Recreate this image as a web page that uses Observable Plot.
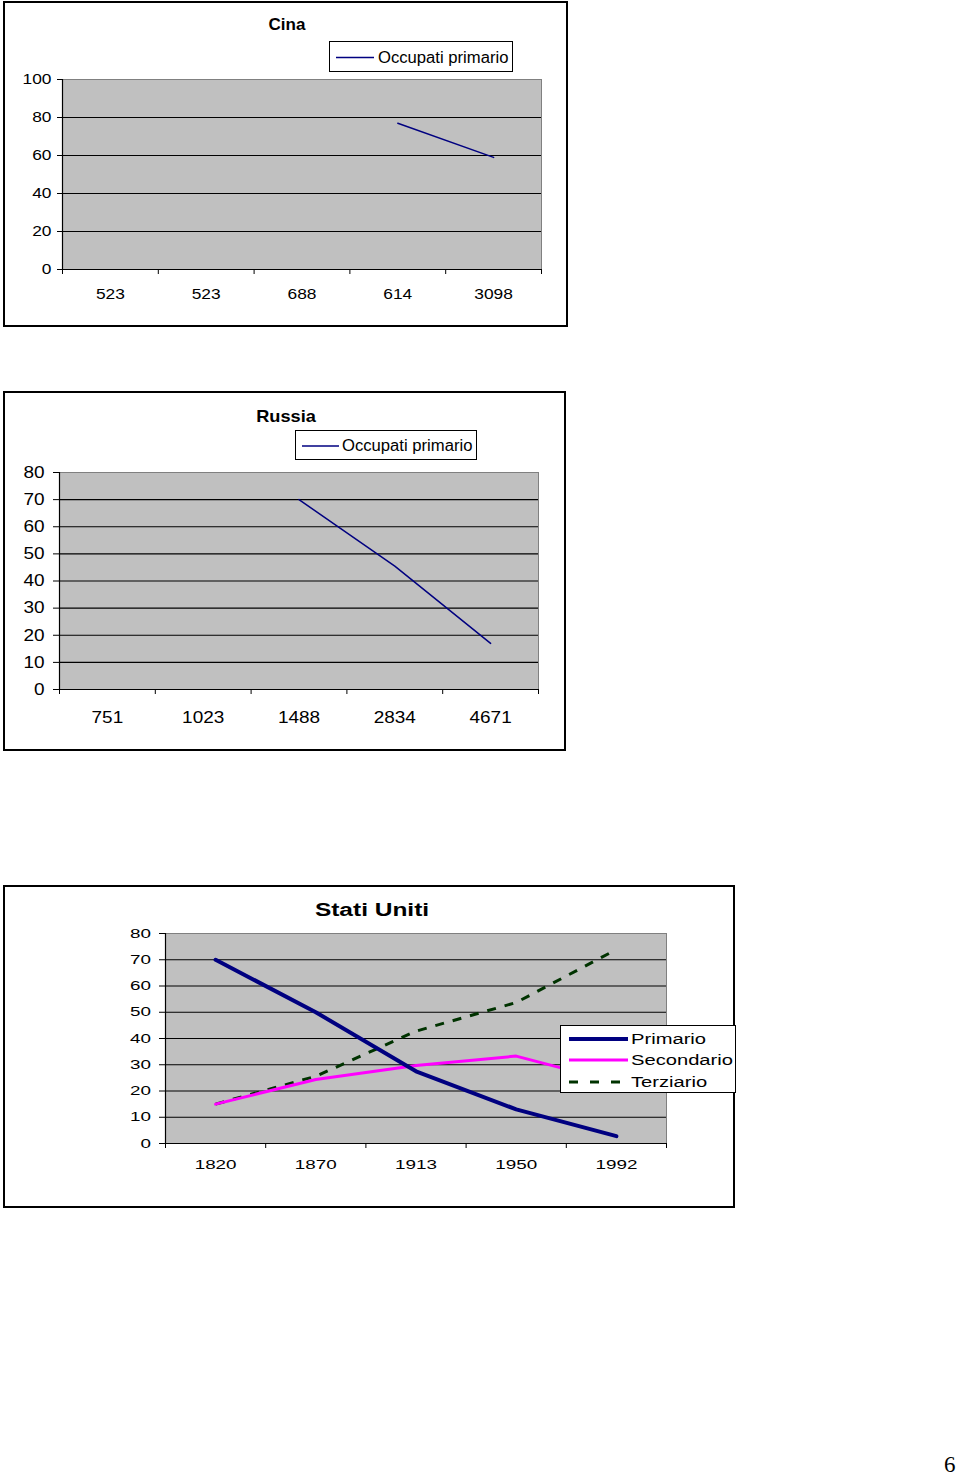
<!DOCTYPE html>
<html>
<head>
<meta charset="utf-8">
<script src="https://cdn.jsdelivr.net/npm/d3@7"></script>
<script src="https://cdn.jsdelivr.net/npm/@observablehq/plot@0.6"></script>
<style>
  html, body { margin: 0; padding: 0; background: #fff; }
  body { position: relative; width: 960px; height: 1478px; overflow: hidden; }
  .frame { position: absolute; border: 2px solid #000; box-sizing: border-box; }
  .chart { position: absolute; left: 0; }
  .title { position: absolute; font-weight: bold; white-space: nowrap; transform-origin: center center; }
  .legend { position: absolute; background: #fff; border: 1.5px solid #000; box-sizing: border-box; z-index: 5; }
  .legend svg { position: absolute; left: 0; top: 0; }
  .lab { position: absolute; white-space: nowrap; transform-origin: left center; }
  .page { position: absolute; left: 944px; top: 1452px; font-family: "Liberation Serif", serif; font-size: 23px; }
</style>
</head>
<body>
<script>
// ---------- data ----------
const cinaLabels = ["523", "523", "688", "614", "3098"];
const cinaPrimario = [null, null, null, 77, 59];
const cinaTicks = [0, 20, 40, 60, 80, 100];

const russiaLabels = ["751", "1023", "1488", "2834", "4671"];
const russiaPrimario = [null, null, 70, 45.5, 17];
const russiaTicks = [0, 10, 20, 30, 40, 50, 60, 70, 80];

const usaLabels = ["1820", "1870", "1913", "1950", "1992"];
const usaPrimario = [70, 50, 27.5, 13, 2.8];
const usaSecondario = [15, 24.4, 29.7, 33.3, 23.3];
const usaTerziario = [15, 25.6, 42.8, 53.7, 73.9];
const usaTicks = [0, 10, 20, 30, 40, 50, 60, 70, 80];

// ---------- helpers ----------
const ARIAL = "Liberation Sans, Arial, sans-serif";
const NS = "http://www.w3.org/2000/svg";

function el(tag, cls, css, text) {
  const e = document.createElement(tag);
  if (cls) e.className = cls;
  Object.assign(e.style, css || {});
  if (text != null) e.textContent = text;
  document.body.appendChild(e);
  return e;
}

// widen the axis labels horizontally around their anchor point
function stretchText(svg, s) {
  if (s === 1) return;
  Array.from(svg.querySelectorAll("text")).forEach(t => {
    if (!t.textContent) return;
    const anchor = getComputedStyle(t).textAnchor || "start";
    const g = document.createElementNS(NS, "g");
    t.parentNode.insertBefore(g, t);
    g.appendChild(t);
    const b = g.getBBox();
    if (!isFinite(b.x) || b.width === 0) return;
    const ax = anchor === "end" ? b.x + b.width : anchor === "middle" ? b.x + b.width / 2 : b.x;
    g.setAttribute("transform", `translate(${ax},0) scale(${s},1) translate(${-ax},0)`);
  });
}

function makeChart(cfg) {
  const idx = cfg.labels.map((_, i) => i);
  const bounds = d3.range(-0.5, cfg.labels.length, 1);
  const ymax = cfg.yTicks[cfg.yTicks.length - 1];
  const marks = [
    Plot.frame({fill: "#c0c0c0", stroke: "#808080"}),
    Plot.ruleY(cfg.yTicks.filter(t => t > 0 && t < ymax), {stroke: "#000", strokeWidth: 1.2}),
    Plot.ruleX([-0.5], {stroke: "#000", strokeWidth: 1.2}),
    Plot.ruleY([0], {stroke: "#000", strokeWidth: 1.2}),
    Plot.axisY({ticks: cfg.yTicks, tickSize: cfg.yTickSize, tickPadding: cfg.yPad, fontSize: cfg.fontSize, tickFormat: d => String(d)}),
    Plot.axisX({ticks: bounds, tickSize: 5, tickFormat: () => ""}),
    Plot.axisX({ticks: idx, tickSize: 0, tickPadding: cfg.xPad, fontSize: cfg.fontSize, tickFormat: i => cfg.labels[i]})
  ];
  for (const s of cfg.series) {
    const data = s.values.map((v, i) => ({i, v}));
    marks.push(Plot.line(data, {x: "i", y: "v", stroke: s.color, strokeWidth: s.width,
      strokeDasharray: s.dash, strokeLinecap: s.dash ? "butt" : "round"}));
  }
  const svg = Plot.plot({
    width: cfg.width, height: cfg.height,
    marginLeft: cfg.ml, marginRight: cfg.mr, marginTop: cfg.mt, marginBottom: cfg.mb,
    x: {type: "linear", domain: [-0.5, cfg.labels.length - 0.5], label: null},
    y: {domain: [0, ymax], label: null},
    style: {fontFamily: cfg.font, fontSize: cfg.fontSize + "px", color: "#000", background: "transparent", overflow: "visible"},
    marks
  });
  svg.classList.add("chart");
  svg.style.top = cfg.top + "px";
  document.body.appendChild(svg);
  stretchText(svg, cfg.stretch);
}

function makeTitle(text, cx, cy, size, stretch) {
  el("div", "title", {left: cx + "px", top: cy + "px", fontFamily: ARIAL, fontSize: size + "px",
    transform: `translate(-50%, -50%) scaleX(${stretch})`}, text);
}

function makeLegend(box, rows, fontSize, stretch) {
  const d = el("div", "legend", {left: box.x + "px", top: box.y + "px", width: box.w + "px", height: box.h + "px"});
  const s = document.createElementNS(NS, "svg");
  s.setAttribute("width", box.w); s.setAttribute("height", box.h);
  d.appendChild(s);
  rows.forEach(r => {
    const l = document.createElementNS(NS, "line");
    l.setAttribute("x1", r.x1); l.setAttribute("x2", r.x2);
    l.setAttribute("y1", r.y); l.setAttribute("y2", r.y);
    l.setAttribute("stroke", r.color); l.setAttribute("stroke-width", r.width);
    if (r.dash) l.setAttribute("stroke-dasharray", r.dash);
    s.appendChild(l);
    const t = document.createElement("div");
    t.className = "lab";
    Object.assign(t.style, {left: r.tx + "px", top: r.y + "px", fontFamily: ARIAL, fontSize: fontSize + "px",
      transform: `translateY(-50%) scaleX(${stretch})`});
    t.textContent = r.text;
    d.appendChild(t);
  });
}

// ---------- Cina ----------
el("div", "frame", {left: "3px", top: "1px", width: "565px", height: "326px"});
makeChart({
  top: 0, width: 570, height: 330, ml: 62, mr: 29, mt: 79, mb: 61,
  labels: cinaLabels, yTicks: cinaTicks, font: ARIAL, fontSize: 15.5, stretch: 1.12,
  yTickSize: 5, yPad: 6, xPad: 18,
  series: [{values: cinaPrimario, color: "#000080", width: 1.5}]
});
makeTitle("Cina", 287, 25, 17, 1.0);
makeLegend({x: 329, y: 41, w: 184, h: 31},
  [{x1: 6, x2: 44, y: 15.5, color: "#000080", width: 1.5, tx: 48, text: "Occupati primario"}],
  16, 1.04);

// ---------- Russia ----------
el("div", "frame", {left: "3px", top: "391px", width: "563px", height: "360px"});
makeChart({
  top: 390, width: 570, height: 365, ml: 59, mr: 32, mt: 82, mb: 66,
  labels: russiaLabels, yTicks: russiaTicks, font: ARIAL, fontSize: 16.5, stretch: 1.15,
  yTickSize: 6, yPad: 9, xPad: 22,
  series: [{values: russiaPrimario, color: "#000080", width: 1.5}]
});
makeTitle("Russia", 286, 417, 17, 1.07);
makeLegend({x: 295, y: 430, w: 182, h: 30},
  [{x1: 6, x2: 43, y: 15, color: "#000080", width: 1.5, tx: 46, text: "Occupati primario"}],
  16, 1.04);

// ---------- Stati Uniti ----------
el("div", "frame", {left: "3px", top: "885px", width: "732px", height: "323px"});
makeChart({
  top: 880, width: 740, height: 330, ml: 165, mr: 74, mt: 53, mb: 67,
  labels: usaLabels, yTicks: usaTicks, font: ARIAL, fontSize: 13, stretch: 1.45,
  yTickSize: 6, yPad: 8.5, xPad: 16,
  series: [
    {values: usaTerziario, color: "#003300", width: 3, dash: "9,9"},
    {values: usaSecondario, color: "#ff00ff", width: 3},
    {values: usaPrimario, color: "#000080", width: 4}
  ]
});
makeTitle("Stati Uniti", 372, 910, 18, 1.36);
makeLegend({x: 560, y: 1025, w: 176, h: 68},
  [
    {x1: 8, x2: 67, y: 13, color: "#000080", width: 4, tx: 70, text: "Primario"},
    {x1: 8, x2: 67, y: 34, color: "#ff00ff", width: 3, tx: 70, text: "Secondario"},
    {x1: 8, x2: 67, y: 56, color: "#003300", width: 3, dash: "9,12", tx: 70, text: "Terziario"}
  ],
  14, 1.44);

// page number
el("div", "page", {}, "6");
</script>
</body>
</html>
